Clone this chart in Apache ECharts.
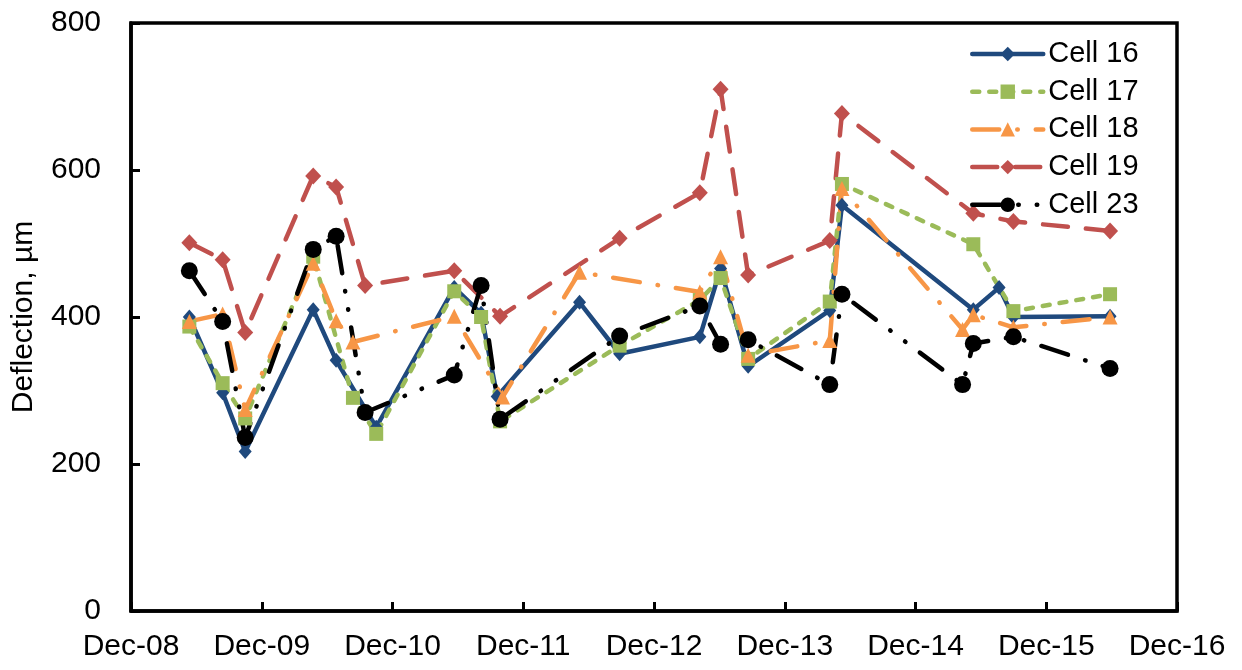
<!DOCTYPE html>
<html>
<head>
<meta charset="utf-8">
<script src="https://cdn.jsdelivr.net/npm/echarts@6/dist/echarts.min.js"></script>
<style>
  html, body { margin: 0; padding: 0; background: #fff; }
  #main { width: 1242px; height: 670px; }
</style>
</head>
<body>
<div id="main"></div>
<script>
// tick labels
const xTickLabels = ['Dec-08', 'Dec-09', 'Dec-10', 'Dec-11', 'Dec-12', 'Dec-13', 'Dec-14', 'Dec-15', 'Dec-16'];
const yTicks = [0, 200, 400, 600, 800];
const startDate = '2008-12-01';

// Cell 16
const cell16Dates = ['2009-05-13', '2009-08-14', '2009-10-16', '2010-04-24', '2010-06-27', '2010-10-17', '2011-05-23', '2011-08-06', '2011-09-20', '2012-05-07', '2012-08-27', '2013-04-08', '2013-06-05', '2013-08-21', '2014-04-06', '2014-05-10', '2015-05-12', '2015-07-23', '2015-09-01', '2016-05-28'];
const cell16Values = [400, 297, 217, 410, 341, 250, 440, 405, 292, 420, 350, 373, 466, 333, 409, 552, 410, 440, 400, 401];

// Cell 17
const cell17Dates = ['2009-05-13', '2009-08-14', '2009-10-16', '2010-04-24', '2010-08-13', '2010-10-17', '2011-05-23', '2011-08-06', '2011-09-28', '2012-08-27', '2013-04-08', '2013-06-05', '2013-08-21', '2014-04-06', '2014-05-10', '2015-05-12', '2015-09-01', '2016-05-28'];
const cell17Values = [387, 310, 262, 482, 290, 241, 435, 400, 258, 361, 423, 453, 343, 421, 581, 499, 408, 431];

// Cell 18
const cell18Dates = ['2009-05-13', '2009-08-14', '2009-10-16', '2010-04-24', '2010-06-27', '2010-08-13', '2011-05-23', '2011-10-05', '2012-05-07', '2013-04-08', '2013-06-05', '2013-08-21', '2014-04-06', '2014-05-10', '2015-04-12', '2015-05-12', '2015-09-01', '2016-05-28'];
const cell18Values = [394, 404, 274, 473, 395, 366, 401, 291, 461, 434, 482, 348, 368, 575, 383, 403, 386, 400];

// Cell 19
const cell19Dates = ['2009-05-13', '2009-08-14', '2009-10-16', '2010-04-24', '2010-06-27', '2010-09-16', '2011-05-23', '2011-09-28', '2012-08-27', '2013-04-08', '2013-06-05', '2013-08-21', '2014-04-06', '2014-05-10', '2015-05-12', '2015-09-01', '2016-05-28'];
const cell19Values = [501, 478, 379, 592, 577, 443, 463, 401, 507, 569, 710, 457, 504, 677, 541, 530, 517];

// Cell 23
const cell23Dates = ['2009-05-13', '2009-08-14', '2009-10-16', '2010-04-24', '2010-06-27', '2010-09-16', '2011-05-23', '2011-08-06', '2011-09-28', '2012-08-27', '2013-04-08', '2013-06-05', '2013-08-21', '2014-04-06', '2014-05-10', '2015-04-12', '2015-05-12', '2015-09-01', '2016-05-28'];
const cell23Values = [463, 394, 236, 492, 510, 270, 321, 443, 261, 374, 415, 363, 369, 308, 431, 308, 364, 373, 330];

const FONT = 'Liberation Sans, Arial, sans-serif';
const LINE_W = 4.5;

// years since Dec-08, so ticks land on each December
function yearsSince(d) {
  return (Date.parse(d) - Date.parse(startDate)) / (365.25 * 86400000);
}

function toPoints(dates, values) {
  return dates.map((d, i) => [yearsSince(d), values[i]]);
}

function makeSeries(name, dates, values, color, symbol, size, dash) {
  return {
    name: name,
    type: 'line',
    data: toPoints(dates, values),
    symbol: symbol,
    symbolSize: size,
    showAllSymbol: true,
    itemStyle: { color: color, borderWidth: 0 },
    lineStyle: { color: color, width: LINE_W, type: dash, cap: 'round' }
  };
}

var chartDom = document.getElementById('main');
var myChart = echarts.init(chartDom);

var option = {
  animation: false,
  backgroundColor: '#fff',
  textStyle: { fontFamily: FONT },
  grid: {
    left: 131, right: 65, top: 23, bottom: 59,
    show: true, borderColor: '#000', borderWidth: 3.5
  },
  legend: {
    orient: 'vertical',
    left: 965,
    top: 34,
    itemWidth: 71,
    itemHeight: 18,
    itemGap: 7.7,
    lineStyle: { width: LINE_W },
    textStyle: { fontSize: 29, color: '#000', fontFamily: FONT, lineHeight: 30 },
    data: ['Cell 16', 'Cell 17', 'Cell 18', 'Cell 19', 'Cell 23']
  },
  xAxis: {
    type: 'value',
    min: 0,
    max: xTickLabels.length - 1,
    interval: 1,
    axisLine: { lineStyle: { color: '#000', width: 3.5 } },
    axisTick: { inside: true, length: 9, lineStyle: { color: '#000', width: 3 } },
    axisLabel: {
      margin: 21,
      fontSize: 30,
      color: '#000',
      fontFamily: FONT,
      formatter: v => xTickLabels[Math.round(v)]
    },
    splitLine: { show: false }
  },
  yAxis: {
    type: 'value',
    min: yTicks[0],
    max: yTicks[yTicks.length - 1],
    interval: 200,
    name: 'Deflection, µm',
    nameLocation: 'middle',
    nameGap: 92,
    nameTextStyle: { fontSize: 30, color: '#000', fontFamily: FONT },
    axisLine: { show: true, lineStyle: { color: '#000', width: 3.5 } },
    axisTick: { show: true, inside: true, length: 9, lineStyle: { color: '#000', width: 3 } },
    axisLabel: { margin: 30, fontSize: 30, color: '#000', fontFamily: FONT },
    splitLine: { show: false }
  },
  series: [
    makeSeries('Cell 16', cell16Dates, cell16Values, '#1F497D', 'diamond', [13, 15], 'solid'),
    makeSeries('Cell 17', cell17Dates, cell17Values, '#9BBB59', 'rect', 14, [7, 10]),
    makeSeries('Cell 18', cell18Dates, cell18Values, '#F79646', 'triangle', 15, [27, 18, 0.5, 18]),
    makeSeries('Cell 19', cell19Dates, cell19Values, '#C0504D', 'diamond', [16, 17], [25, 18]),
    makeSeries('Cell 23', cell23Dates, cell23Values, '#000000', 'circle', 17, [28, 18, 0.5, 18, 0.5, 18])
  ]
};

myChart.setOption(option);
</script>
</body>
</html>
